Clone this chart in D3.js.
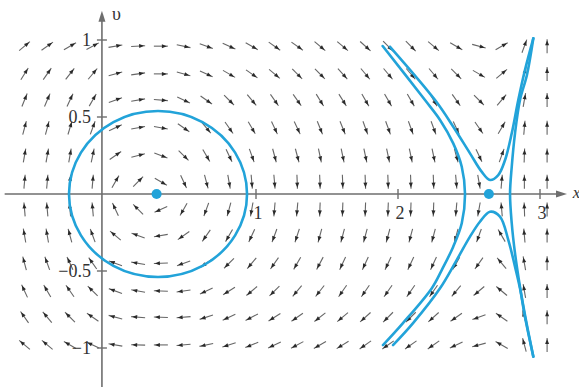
<!DOCTYPE html>
<html><head><meta charset="utf-8">
<script src="https://cdn.jsdelivr.net/npm/d3@7"></script>
<style>html,body{margin:0;padding:0;background:#fff;} svg{display:block;}</style>
</head><body>
<svg id="chart" width="579" height="387"></svg>
<script>
// ---------- data ----------
const xTicks = [1, 2, 3];
const xTickLabels = ["1", "2", "3"];
const vTicks = [1, 0.5, -0.5, -1];
const vTickLabels = ["1", "0.5", "\u22120.5", "\u22121"];

// direction-field sample grid (data coordinates)
const xGrid = [-0.63,-0.47,-0.31,-0.15,0.01,0.17,0.33,0.49,0.65,0.81,0.97,1.13,1.29,1.45,1.61,1.77,1.93,2.09,2.25,2.41,2.57,2.73,2.89,3.05];
const vGrid = [0.96,0.78,0.61,0.43,0.25,0.08,-0.10,-0.27,-0.45,-0.63,-0.80,-0.98];

// arrow directions (degrees, counter-clockwise from +x), one row per vGrid value
const angRow0  = [40,35,30,28,10,3,0,-12,-20,-25,-30,-35,-35,-40,-40,-42,-45,-45,-40,-30,-15,30,70,90];
const angRow1  = [58,55,52,50,15,8,0,-15,-25,-30,-35,-40,-45,-45,-48,-50,-50,-50,-50,-45,-30,40,75,90];
const angRow2  = [68,67,65,60,20,10,-5,-25,-35,-45,-50,-55,-55,-58,-58,-60,-60,-60,-60,-55,-45,50,80,90];
const angRow3  = [75,75,73,70,25,10,-10,-35,-50,-55,-60,-65,-65,-68,-68,-70,-70,-70,-70,-65,-55,60,85,90];
const angRow4  = [80,80,80,78,35,15,-20,-45,-60,-65,-70,-75,-75,-78,-78,-78,-78,-78,-78,-75,-65,70,88,90];
const angRow5  = [85,85,85,85,60,45,-30,-65,-75,-80,-85,-85,-88,-88,-88,-88,-88,-88,-88,-85,-80,85,90,90];
const angRow6  = [95,95,95,95,115,135,205,240,250,255,260,265,265,268,268,268,268,268,268,265,260,95,92,90];
const angRow7  = [100,100,105,110,140,160,190,215,235,240,245,250,252,255,255,255,255,255,255,255,250,120,95,90];
const angRow8  = [105,110,115,125,160,170,182,200,215,225,230,235,240,242,245,245,245,245,245,240,235,130,100,90];
const angRow9  = [115,120,125,135,160,170,178,188,205,212,220,225,230,232,235,235,235,235,235,230,220,140,100,90];
const angRow10 = [125,130,135,145,165,175,178,185,198,205,208,212,215,218,220,222,225,225,222,215,200,145,105,90];
const angRow11 = [140,140,150,155,170,178,180,185,192,198,202,205,208,210,212,215,215,215,215,205,195,150,105,90];
const fieldAngles = [angRow0,angRow1,angRow2,angRow3,angRow4,angRow5,angRow6,angRow7,angRow8,angRow9,angRow10,angRow11];

// equilibrium points
const eqX = [0.30, 2.64];
const eqV = [0, 0];

// closed orbit around the centre
const orbitX = [0.937,0.853,0.623,0.310,-0.004,-0.233,-0.317,-0.233,-0.004,0.310,0.623,0.853];
const orbitV = [0,0.269,0.467,0.539,0.467,0.269,0,-0.269,-0.467,-0.539,-0.467,-0.269];

// trajectories near the saddle
const leftX = [1.892,2.190,2.296,2.389,2.449,2.472,2.449,2.389,2.308,2.237,2.035,1.894];
const leftV = [0.961,0.610,0.481,0.329,0.177,0,-0.190,-0.342,-0.494,-0.613,-0.838,-0.981];
const upperX = [1.944,2.261,2.389,2.507,2.589,2.648,2.706,2.754,2.801,2.847,2.894,2.953];
const upperV = [0.956,0.610,0.437,0.264,0.145,0.091,0.123,0.221,0.394,0.610,0.805,1.011];
const lowerX = [1.965,2.106,2.296,2.413,2.507,2.577,2.648,2.718,2.777,2.824,2.859,2.894,2.953];
const lowerV = [-0.981,-0.838,-0.612,-0.429,-0.277,-0.180,-0.115,-0.147,-0.299,-0.472,-0.612,-0.797,-1.056];
const rightX = [2.953,2.908,2.859,2.824,2.801,2.789,2.801,2.824,2.859,2.901,2.953];
const rightV = [1.011,0.773,0.610,0.394,0.177,0,-0.190,-0.385,-0.602,-0.818,-1.056];

// ---------- drawing ----------
const svg = d3.select("#chart");
const x = d3.scaleLinear().domain([0, 3]).range([114, 540]);
const y = d3.scaleLinear().domain([-1, 1]).range([348, 40]);

const curveColor = "#22a3d9";
const axisColor = "#6e6e6e";
const font = "'Liberation Serif','Times New Roman',serif";

// direction field
const arrows = [];
vGrid.forEach((v, j) => xGrid.forEach((xv, i) => arrows.push({x: xv, v: v, a: fieldAngles[j][i]})));
const gF = svg.append("g");
const L = 7;
gF.selectAll("path.arrow").data(arrows).join("path")
  .attr("class", "arrow")
  .attr("d", d => {
    const cx = x(d.x), cy = y(d.v);
    const r = d.a * Math.PI / 180;
    const dx = Math.cos(r), dy = -Math.sin(r);
    return `M${cx - L*dx},${cy - L*dy}L${cx + L*dx},${cy + L*dy}`;
  })
  .attr("stroke", "#666").attr("stroke-width", 1.1).attr("fill", "none");
gF.selectAll("path.head").data(arrows).join("path")
  .attr("class", "head")
  .attr("d", d => {
    const cx = x(d.x), cy = y(d.v);
    const r = d.a * Math.PI / 180;
    const dx = Math.cos(r), dy = -Math.sin(r);
    const tx = cx + (L-1)*dx, ty = cy + (L-1)*dy;
    const bx = tx - 5*dx, by = ty - 5*dy;
    const px = -dy, py = dx;
    return `M${tx},${ty}L${bx + 2*px},${by + 2*py}L${bx - 2*px},${by - 2*py}Z`;
  })
  .attr("fill", "#2a2a2a");

// axes
const axisXpos = -0.085;
const gA = svg.append("g");
gA.append("line").attr("x1", x(-0.77)).attr("x2", x(3.13)).attr("y1", y(0)).attr("y2", y(0))
  .attr("stroke", axisColor).attr("stroke-width", 1.6);
gA.append("path").attr("d", `M${x(3.19)},${y(0)}L${x(3.19)-11},${y(0)-3.5}L${x(3.19)-11},${y(0)+3.5}Z`).attr("fill", axisColor);
gA.append("line").attr("x1", x(axisXpos)).attr("x2", x(axisXpos)).attr("y1", y(-1.26)).attr("y2", y(1.13))
  .attr("stroke", axisColor).attr("stroke-width", 1.6);
gA.append("path").attr("d", `M${x(axisXpos)},${y(1.19)}L${x(axisXpos)-3.5},${y(1.19)+11}L${x(axisXpos)+3.5},${y(1.19)+11}Z`).attr("fill", axisColor);

gA.selectAll("line.xt").data(xTicks).join("line").attr("class", "xt")
  .attr("x1", d => x(d)).attr("x2", d => x(d)).attr("y1", y(0) - 5).attr("y2", y(0) + 5)
  .attr("stroke", axisColor).attr("stroke-width", 1.4);
gA.selectAll("line.vt").data(vTicks).join("line").attr("class", "vt")
  .attr("x1", x(axisXpos) - 5).attr("x2", x(axisXpos) + 5).attr("y1", d => y(d)).attr("y2", d => y(d))
  .attr("stroke", axisColor).attr("stroke-width", 1.4);

gA.selectAll("text.xl").data(xTicks).join("text").attr("class", "xl")
  .attr("x", d => x(d) + 2).attr("y", y(0) + 25)
  .attr("text-anchor", "middle").attr("font-family", font).attr("font-size", 18).attr("fill", "#333")
  .text((d, i) => xTickLabels[i]);
gA.selectAll("text.vl").data(vTicks).join("text").attr("class", "vl")
  .attr("x", x(axisXpos) - 11).attr("y", d => y(d) + 6)
  .attr("text-anchor", "end").attr("font-family", font).attr("font-size", 18).attr("fill", "#333")
  .text((d, i) => vTickLabels[i]);

gA.append("text").attr("x", x(3.23)).attr("y", y(0) + 4).attr("font-family", font).attr("font-style", "italic")
  .attr("font-size", 17).attr("fill", "#333").text("x");
gA.append("text").attr("x", x(axisXpos) + 10).attr("y", y(1.13)).attr("font-family", font)
  .attr("font-size", 18).attr("fill", "#333").text("\u03C5");

// trajectories
const line = d3.line().x(d => x(d[0])).y(d => y(d[1])).curve(d3.curveCatmullRom.alpha(0.5));
const closed = d3.line().x(d => x(d[0])).y(d => y(d[1])).curve(d3.curveCatmullRomClosed.alpha(0.5));
const zip = (a, b) => a.map((v, i) => [v, b[i]]);
const gC = svg.append("g").attr("fill", "none").attr("stroke", curveColor).attr("stroke-width", 2.6)
  .attr("stroke-linecap", "round").attr("stroke-linejoin", "round");
gC.append("path").attr("d", closed(zip(orbitX, orbitV)));
[[leftX, leftV], [upperX, upperV], [lowerX, lowerV], [rightX, rightV]].forEach(([a, b]) =>
  gC.append("path").attr("d", line(zip(a, b))));

svg.append("g").selectAll("circle").data(eqX).join("circle")
  .attr("cx", d => x(d)).attr("cy", (d, i) => y(eqV[i])).attr("r", 5).attr("fill", curveColor);
</script>
</body></html>
